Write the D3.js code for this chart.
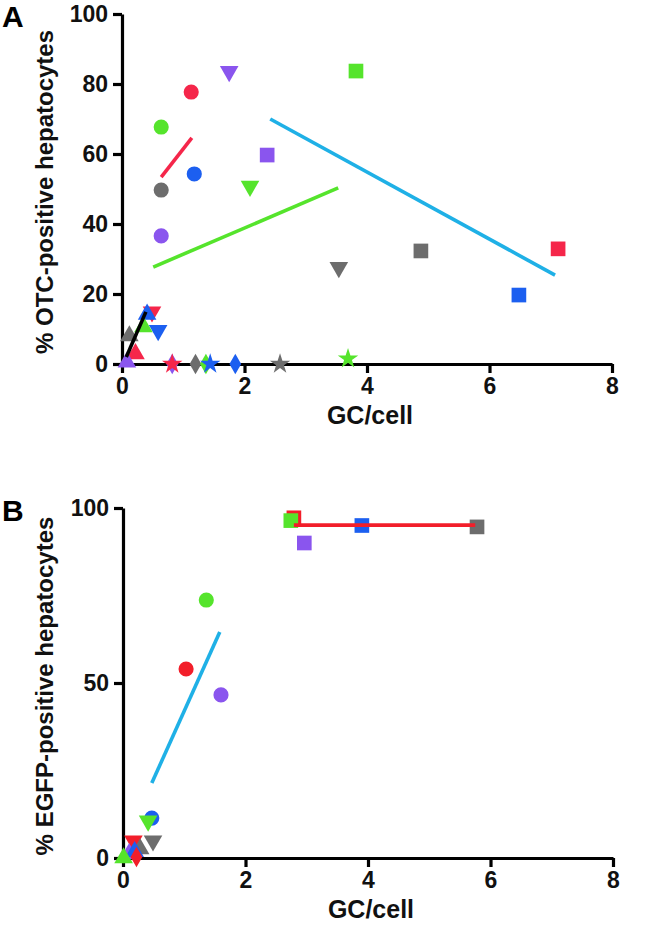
<!DOCTYPE html>
<html><head><meta charset="utf-8">
<script src="https://cdn.jsdelivr.net/npm/d3@7"></script>
<style>body{margin:0;background:#fff}svg{display:block}text{font-family:"Liberation Sans",Arial,sans-serif;font-weight:bold}</style>
</head><body>
<svg id="chart" width="660" height="939"></svg>
<script>
// ---- categories ----
const animals = ["R", "G", "P", "B", "K"];
const markers = ["circle", "square", "triDown", "triUp", "diamond", "star"];
const xTicks = [0, 2, 4, 6, 8];
const yTicksA = [0, 20, 40, 60, 80, 100];
const yTicksB = [0, 50, 100];

// ---- panel A points ----
const aX      = [1.13, 0.64, 1.18, 0.64, 0.64,  3.82, 2.37, 4.88, 7.12, 6.48,  1.75, 2.09, 3.54, 0.49, 0.59,  0.41, 0.35, 0.12, 0.22, 0.08,  0.82, 1.20, 1.37, 1.85,  0.82, 1.44, 2.58, 3.69];
const aY      = [77.7, 67.7, 54.3, 49.7, 36.6,  83.7, 59.7, 32.3, 32.9, 19.7,  83.6, 50.8, 27.6, 14.9, 9.6,   14.2, 10.6, 8.0, 2.9, 0.5,      0, 0, 0, 0,              0, 0, 0, 1.5];
const aAnimal = ["R","G","B","K","P",  "G","P","K","R","B",  "P","G","K","R","B",  "B","G","K","R","P",  "P","K","G","B",  "R","B","K","G"];
const aMarker = ["circle","circle","circle","circle","circle",
                 "square","square","square","square","square",
                 "triDown","triDown","triDown","triDown","triDown",
                 "triUp","triUp","triUp","triUp","triUp",
                 "diamond","diamond","diamond","diamond",
                 "star","star","star","star"];
// panel A fit lines
const aFitColor = ["R", "C", "G", "Z"];
const aFitX1 = [0.64, 2.42, 0.51, 0.07];
const aFitY1 = [53.4, 70.0, 27.7, 2.0];
const aFitX2 = [1.14, 7.07, 3.53, 0.39];
const aFitY2 = [64.6, 25.4, 50.3, 14.9];

// ---- panel B points ----
const bX      = [2.79, 2.74, 2.96, 3.90, 5.78,  1.36, 1.03, 1.60, 0.47,  0.41, 0.49, 0.17,  0.10, 0.28, 0.19, 0.22, 0.01];
const bY      = [97.2, 96.4, 90.0, 95.0, 94.6,  73.7, 54.0, 46.6, 11.4,  10.6, 4.9, 4.9,    1.2, 2.6, 1.8, 0.3, 0.0];
const bAnimal = ["R","G","P","B","K",  "G","R","P","B",  "G","K","R",  "P","K","B","R","G"];
const bMarker = ["square","square","square","square","square",
                 "circle","circle","circle","circle",
                 "triDown","triDown","triDown",
                 "triUp","triUp","triUp","diamond","triUp"];
const bFitColor = ["C", "R"];
const bFitX1 = [0.47, 2.79];
const bFitY1 = [21.4, 95.1];
const bFitX2 = [1.58, 5.75];
const bFitY2 = [64.6, 95.1];

// ---- drawing ----
const svg = d3.select("#chart");
const colorA = d3.scaleOrdinal().domain(["R","G","P","B","K","C","Z"])
  .range(["#f5264a","#55e42c","#8a55ee","#1c5ff0","#6d6d6d","#1fb0e6","#000000"]);
const colorB = d3.scaleOrdinal().domain(["R","G","P","B","K","C","Z"])
  .range(["#f21e2a","#55e42c","#8a55ee","#1c5ff0","#6d6d6d","#1fb0e6","#000000"]);
const symType = d3.scaleOrdinal().domain(markers)
  .range([d3.symbolCircle, d3.symbolSquare, d3.symbolTriangle, d3.symbolTriangle, d3.symbolDiamond, d3.symbolStar]);
const symSize = d3.scaleOrdinal().domain(markers).range([180, 215, 150, 150, 120, 130]);

function panel(cfg) {
  const x = d3.scaleLinear().domain([0, 8]).range(cfg.xr);
  const y = d3.scaleLinear().domain([0, 100]).range(cfg.yr);
  const g = svg.append("g");

  const xAxis = g.append("g").attr("transform", `translate(0,${cfg.yr[0]})`)
    .call(d3.axisBottom(x).tickValues(xTicks).tickFormat(d3.format("d")).tickSize(9).tickSizeOuter(0).tickPadding(5));
  const yAxis = g.append("g").attr("transform", `translate(${cfg.xr[0]},0)`)
    .call(d3.axisLeft(y).tickValues(cfg.yTicks).tickFormat(d3.format("d")).tickSize(9).tickSizeOuter(0).tickPadding(5));
  [xAxis, yAxis].forEach(a => {
    a.selectAll("path.domain").attr("stroke", "#000").attr("stroke-width", 3.2);
    a.selectAll(".tick line").attr("stroke", "#000").attr("stroke-width", 3.2);
    a.selectAll(".tick text").attr("fill", "#111").style("font-size", "23px")
      .style("font-family", '"Liberation Sans", Arial, sans-serif').style("font-weight", "bold");
  });

  const pts = cfg.X.map((v, i) => ({x: v, y: cfg.Y[i], a: cfg.A[i], m: cfg.M[i]}));
  g.append("g").selectAll("path").data(pts).join("path")
    .attr("d", d => d3.symbol().type(symType(d.m)).size(symSize(d.m))())
    .attr("transform", d => `translate(${x(d.x)},${y(d.y)})` + (d.m === "triDown" ? " rotate(180)" : ""))
    .attr("fill", d => cfg.color(d.a));

  const fits = cfg.FC.map((c, i) => ({c, x1: cfg.FX1[i], y1: cfg.FY1[i], x2: cfg.FX2[i], y2: cfg.FY2[i]}));
  g.append("g").selectAll("line").data(fits).join("line")
    .attr("x1", d => x(d.x1)).attr("y1", d => y(d.y1))
    .attr("x2", d => x(d.x2)).attr("y2", d => y(d.y2))
    .attr("stroke", d => cfg.color(d.c)).attr("stroke-width", 3.6);

  g.append("text").attr("x", (cfg.xr[0] + cfg.xr[1]) / 2 + 3).attr("y", cfg.yr[0] + 60)
    .attr("text-anchor", "middle").style("font-size", "25px").attr("fill", "#111").text("GC/cell");
  g.append("text").attr("transform", `translate(53,${(cfg.yr[0] + cfg.yr[1]) / 2 + 3}) rotate(-90)`)
    .attr("text-anchor", "middle").style("font-size", "24px").attr("fill", "#111").text(cfg.ylabel);
  g.append("text").attr("x", 2).attr("y", cfg.letterY).style("font-size", "30px").attr("fill", "#000").text(cfg.letter);
}

panel({xr: [122, 612], yr: [364, 14], yTicks: yTicksA, X: aX, Y: aY, A: aAnimal, M: aMarker,
  FC: aFitColor, FX1: aFitX1, FY1: aFitY1, FX2: aFitX2, FY2: aFitY2, color: colorA,
  ylabel: "% OTC-positive hepatocytes", letter: "A", letterY: 27});
panel({xr: [123, 613], yr: [858, 508], yTicks: yTicksB, X: bX, Y: bY, A: bAnimal, M: bMarker,
  FC: bFitColor, FX1: bFitX1, FY1: bFitY1, FX2: bFitX2, FY2: bFitY2, color: colorB,
  ylabel: "% EGFP-positive hepatocytes", letter: "B", letterY: 521});
</script>
</body></html>
